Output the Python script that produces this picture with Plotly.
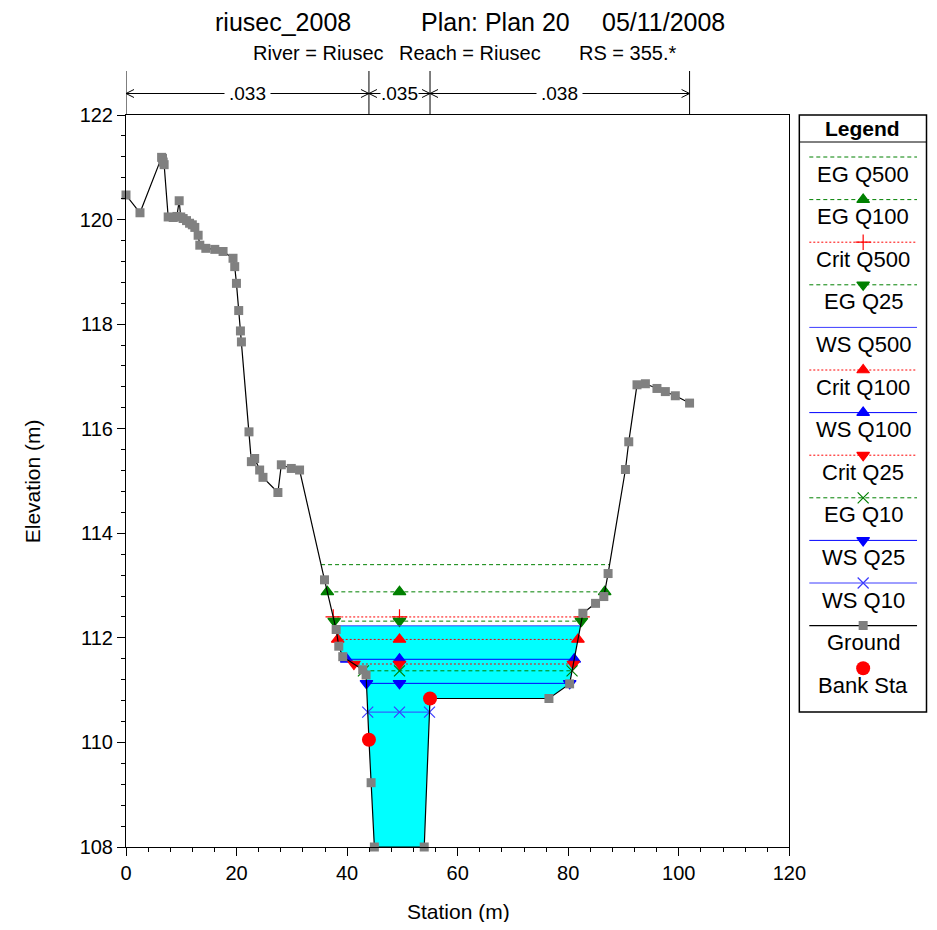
import numpy as np
import plotly.graph_objects as go

# ---------------- data ----------------
ground_sta = [0.0, 2.53, 6.44, 6.6, 6.73, 6.9, 7.63, 8.54, 9.2, 9.62, 9.9, 10.34, 10.95, 11.5, 12.0,
              12.45, 13.05, 13.35, 14.44, 16.06, 17.56, 19.36, 19.67, 19.98, 20.39, 20.70, 20.88,
              22.25, 22.68, 23.28, 24.18, 24.78, 27.48, 28.10, 29.90, 31.40, 35.91, 38.02, 38.49,
              39.21, 42.82, 43.43, 43.95, 44.34, 44.93, 53.95, 55.0, 76.51, 80.25, 82.65, 84.94,
              86.44, 87.21, 90.35, 90.95, 92.44, 93.96, 96.05, 97.57, 99.37, 101.95]
ground_elev = [120.47, 120.13, 121.19, 121.17, 121.10, 121.05, 120.05, 120.04, 120.06, 120.36, 120.05,
               120.02, 119.98, 119.93, 119.90, 119.85, 119.70, 119.51, 119.45, 119.43, 119.39, 119.26,
               119.10, 118.78, 118.26, 117.87, 117.66, 115.94, 115.37, 115.43, 115.21, 115.07, 114.78,
               115.31, 115.24, 115.21, 113.11, 112.16, 111.84, 111.64, 111.39, 111.29, 110.05, 109.23,
               108.0, 108.0, 110.84, 110.84, 111.12, 112.47, 112.66, 112.79, 113.23, 115.22, 115.75,
               116.84, 116.86, 116.77, 116.71, 116.63, 116.49]

bank_sta = [43.95, 55.0]
bank_elev = [110.05, 110.84]

profile_names = ["EG Q500", "EG Q100", "Crit Q500", "EG Q25", "WS Q500", "Crit Q100",
                 "WS Q100", "Crit Q25", "EG Q10", "WS Q25", "WS Q10"]
profile_elev = [113.40, 112.88, 112.40, 112.32, 112.23, 111.97, 111.59, 111.50, 111.37, 111.13, 110.58]

n_values = [".033", ".035", ".038"]
n_breaks = [0.0, 43.95, 55.0, 101.95]

title_parts = ["riusec_2008", "Plan: Plan 20", "05/11/2008"]
subtitle_parts = ["River = Riusec", "Reach = Riusec", "RS = 355.*"]

# ---------------- styles ----------------
GREEN = "#008000"
RED = "#ff0000"
BLUE = "#0000ff"
LBLUE = "#3c3cff"
styles = {
    "EG Q500": dict(color=GREEN, dash="4px,3px", symbol=None),
    "EG Q100": dict(color=GREEN, dash="4px,3px", symbol="triangle-up"),
    "Crit Q500": dict(color=RED, dash="2px,2px", symbol="cross-thin"),
    "EG Q25": dict(color=GREEN, dash="4px,3px", symbol="triangle-down"),
    "WS Q500": dict(color=LBLUE, dash="solid", symbol=None),
    "Crit Q100": dict(color=RED, dash="2px,2px", symbol="triangle-up"),
    "WS Q100": dict(color=BLUE, dash="solid", symbol="triangle-up"),
    "Crit Q25": dict(color=RED, dash="2px,2px", symbol="triangle-down"),
    "EG Q10": dict(color=GREEN, dash="4px,3px", symbol="x-thin"),
    "WS Q25": dict(color=BLUE, dash="solid", symbol="triangle-down"),
    "WS Q10": dict(color=LBLUE, dash="solid", symbol="x-thin"),
}
FONT = "Liberation Sans, Arial, sans-serif"

gs = np.array(ground_sta)
ge = np.array(ground_elev)
imin = int(np.argmin(ge))


def crossings(level):
    i = imin
    while i > 0 and ge[i - 1] < level:
        i -= 1
    j = i - 1
    xl = gs[j] + (level - ge[j]) * (gs[i] - gs[j]) / (ge[i] - ge[j])
    k = imin
    while k < len(ge) - 1 and ge[k + 1] < level:
        k += 1
    m = k + 1
    xr = gs[k] + (level - ge[k]) * (gs[m] - gs[k]) / (ge[m] - ge[k])
    return xl, xr, i, k


fig = go.Figure()

# water fill for highest WS
ws_top = profile_elev[profile_names.index("WS Q500")]
xl, xr, il, ir = crossings(ws_top)
fx = [xl] + list(gs[il:ir + 1]) + [xr, xl]
fy = [ws_top] + list(ge[il:ir + 1]) + [ws_top, ws_top]
fig.add_trace(go.Scatter(x=fx, y=fy, mode="lines", fill="toself", fillcolor="#00ffff",
                         line=dict(width=0), hoverinfo="skip", showlegend=False))

chan_mid = (bank_sta[0] + bank_sta[1]) / 2
for name, lev in zip(profile_names, profile_elev):
    st = styles[name]
    xl, xr, _, _ = crossings(lev)
    fig.add_trace(go.Scatter(x=[xl, xr], y=[lev, lev], mode="lines",
                             line=dict(color=st["color"], width=1, dash=st["dash"]),
                             showlegend=False, hoverinfo="skip"))
    if st["symbol"]:
        fig.add_trace(go.Scatter(x=[xl, chan_mid, xr], y=[lev, lev, lev], mode="markers",
                                 marker=dict(symbol=st["symbol"], size=11, color=st["color"],
                                             line=dict(color=st["color"], width=1.2)),
                                 showlegend=False, hoverinfo="skip", cliponaxis=False))

fig.add_trace(go.Scatter(x=ground_sta, y=ground_elev, mode="lines+markers",
                         line=dict(color="black", width=1.2),
                         marker=dict(symbol="square", size=9, color="#808080"),
                         showlegend=False, cliponaxis=False))
fig.add_trace(go.Scatter(x=bank_sta, y=bank_elev, mode="markers",
                         marker=dict(symbol="circle", size=14, color=RED),
                         showlegend=False, cliponaxis=False))

# ---------------- layout geometry ----------------
# The page adds an 8px body margin, and the drawn figure comes out about 15px narrower
# than the requested width; positions below are given in screenshot pixels.
OFF = 8
SHRINK = 15
W_EFF = 937 - 2 * OFF
W, H = W_EFF + SHRINK, 930 - 2 * OFF
ML, MR, MT, MB = 126 - OFF, 0, 115 - OFF, H - (847 - OFF)
PW = W_EFF - ML - MR
PH = H - MT - MB


def px(xp):
    return (xp - OFF - ML) / PW


def py(yp):
    return (H - MB - (yp - OFF)) / PH


shapes = []
annotations = []

# Manning's n bracket
y_top = py(71)
y_arrow = py(93.5)
ah_dx = 8 / 5.5417
ah_dy = 4 / PH
for xb in n_breaks:
    shapes.append(dict(type="line", xref="x", yref="paper", x0=xb, x1=xb, y0=1.0, y1=y_top,
                       line=dict(color="black", width=1)))
for k, lab in enumerate(n_values):
    a, b = n_breaks[k], n_breaks[k + 1]
    shapes.append(dict(type="line", xref="x", yref="paper", x0=a, x1=b, y0=y_arrow, y1=y_arrow,
                       line=dict(color="black", width=1)))
    shapes.append(dict(type="path", xref="x", yref="paper",
                       path=f"M {a + ah_dx} {y_arrow + ah_dy} L {a} {y_arrow} L {a + ah_dx} {y_arrow - ah_dy}",
                       line=dict(color="black", width=1)))
    shapes.append(dict(type="path", xref="x", yref="paper",
                       path=f"M {b - ah_dx} {y_arrow + ah_dy} L {b} {y_arrow} L {b - ah_dx} {y_arrow - ah_dy}",
                       line=dict(color="black", width=1)))
    narrow = (b - a) < 15
    annotations.append(dict(x=(a + b) / 2, y=y_arrow, xref="x", yref="paper", text=lab,
                            showarrow=False, bgcolor="white", borderpad=0 if narrow else 4,
                            font=dict(size=19, family=FONT, color="black"),
                            xanchor="center", yanchor="middle"))

# titles
for t, xc in zip(title_parts, [283, 496, 665]):
    annotations.append(dict(x=px(xc), y=py(22), xref="paper", yref="paper", text=t, showarrow=False,
                            font=dict(size=25, family=FONT, color="black"), xanchor="center", yanchor="middle"))
for t, xc in zip(subtitle_parts, [319, 471, 629]):
    annotations.append(dict(x=px(xc), y=py(53), xref="paper", yref="paper", text=t, showarrow=False,
                            font=dict(size=20, family=FONT, color="black"), xanchor="center", yanchor="middle"))

# axis titles
annotations.append(dict(x=px(459), y=py(911), xref="paper", yref="paper", text="Station (m)",
                        showarrow=False, font=dict(size=21, family=FONT, color="black"),
                        xanchor="center", yanchor="middle"))
annotations.append(dict(x=px(32), y=py(481), xref="paper", yref="paper", text="Elevation (m)",
                        showarrow=False, textangle=-90, font=dict(size=21, family=FONT, color="black"),
                        xanchor="center", yanchor="middle"))

# ---------------- custom legend ----------------
LB_L, LB_R, LB_T, LB_B = 801, 928.5, 115, 712
shapes.append(dict(type="rect", xref="paper", yref="paper", x0=px(LB_L), x1=px(LB_R),
                   y0=py(LB_B), y1=py(LB_T), line=dict(color="black", width=1.5), fillcolor="white",
                   layer="below"))
shapes.append(dict(type="line", xref="paper", yref="paper", x0=px(LB_L), x1=px(LB_R),
                   y0=py(142), y1=py(142), line=dict(color="black", width=1)))
annotations.append(dict(x=(LB_L + LB_R) / 2 - LB_L, y=13, xref="x2", yref="y2", text="<b>Legend</b>",
                        showarrow=False, font=dict(size=21, family=FONT, color="black"),
                        xanchor="center", yanchor="middle"))

leg_names = profile_names + ["Ground", "Bank Sta"]
row_h = 42.6
x0s, x1s, xm = 10, 118, 64
for r, name in enumerate(leg_names):
    ly = 42 + r * row_h
    ty = 59 + r * row_h
    if name in styles:
        st = styles[name]
        fig.add_trace(go.Scatter(x=[x0s, x1s], y=[ly, ly], xaxis="x2", yaxis="y2", mode="lines",
                                 line=dict(color=st["color"], width=1, dash=st["dash"]),
                                 showlegend=False, hoverinfo="skip"))
        if st["symbol"]:
            fig.add_trace(go.Scatter(x=[xm], y=[ly], xaxis="x2", yaxis="y2", mode="markers",
                                     marker=dict(symbol=st["symbol"], size=11, color=st["color"],
                                                 line=dict(color=st["color"], width=1.2)),
                                     showlegend=False, hoverinfo="skip"))
    elif name == "Ground":
        fig.add_trace(go.Scatter(x=[x0s, xm, x1s], y=[ly, ly, ly], xaxis="x2", yaxis="y2",
                                 mode="lines", line=dict(color="black", width=1.2),
                                 showlegend=False, hoverinfo="skip"))
        fig.add_trace(go.Scatter(x=[xm], y=[ly], xaxis="x2", yaxis="y2", mode="markers",
                                 marker=dict(symbol="square", size=9, color="#808080"),
                                 showlegend=False, hoverinfo="skip"))
    else:
        fig.add_trace(go.Scatter(x=[xm], y=[ly], xaxis="x2", yaxis="y2", mode="markers",
                                 marker=dict(symbol="circle", size=14, color=RED),
                                 showlegend=False, hoverinfo="skip"))
    annotations.append(dict(x=xm, y=ty, xref="x2", yref="y2", text=name, showarrow=False,
                            font=dict(size=22, family=FONT, color="black"),
                            xanchor="center", yanchor="middle"))

axis_common = dict(showgrid=False, zeroline=False, showline=True, linecolor="black", linewidth=1,
                   mirror=True, ticks="outside", ticklen=8, tickwidth=1, tickcolor="black",
                   tickfont=dict(size=20, family=FONT, color="black"))

fig.update_layout(
    width=W, height=H, margin=dict(l=ML, r=MR, t=MT, b=MB),
    paper_bgcolor="white", plot_bgcolor="white",
    xaxis=dict(domain=[0, px(791)], range=[0, 120], dtick=20, tick0=0,
               minor=dict(dtick=4, ticklen=4, ticks="outside", tickcolor="black"), **axis_common),
    yaxis=dict(domain=[0, 1], range=[108, 122], dtick=2, tick0=108,
               minor=dict(dtick=0.4, ticklen=4, ticks="outside", tickcolor="black"), **axis_common),
    xaxis2=dict(domain=[px(LB_L), px(LB_R)], range=[0, LB_R - LB_L], visible=False, anchor="y2"),
    yaxis2=dict(domain=[py(LB_B), py(LB_T)], range=[LB_B - LB_T, 0], visible=False, anchor="x2"),
    shapes=shapes, annotations=annotations, showlegend=False,
)

fig.write_html("out.html")
